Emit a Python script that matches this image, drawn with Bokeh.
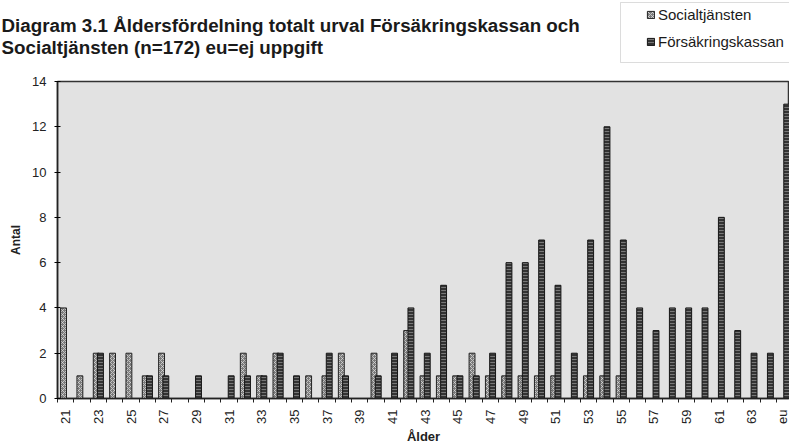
import math
from bokeh.plotting import figure
from bokeh.layouts import column
from bokeh.models import (ColumnDataSource, Range1d, FixedTicker, Label, Legend,
                          LegendItem, BoxAnnotation)
from bokeh.transform import dodge
from bokeh.embed import file_html
from bokeh.resources import INLINE

# ---------------- data ----------------
categories = ["21", "22", "23", "24", "25", "26", "27", "28", "29", "30",
              "31", "32", "33", "34", "35", "36", "37", "38", "39", "40",
              "41", "42", "43", "44", "45", "46", "47", "48", "49", "50",
              "51", "52", "53", "54", "55", "56", "57", "58", "59", "60",
              "61", "62", "63", "64", "eu"]
socialtjansten = [4, 1, 2, 2, 2, 1, 2, 0, 0, 0,
                  0, 2, 1, 2, 0, 1, 1, 2, 0, 2,
                  0, 3, 1, 1, 1, 2, 1, 1, 1, 1,
                  1, 0, 1, 1, 1, 0, 0, 0, 0, 0,
                  0, 0, 0, 0, 0]
forsakringskassan = [0, 0, 2, 0, 0, 1, 1, 0, 1, 0,
                     1, 1, 1, 2, 1, 0, 2, 1, 0, 1,
                     2, 4, 2, 5, 1, 1, 2, 6, 6, 7,
                     5, 2, 7, 12, 7, 4, 3, 4, 4, 4,
                     8, 3, 2, 2, 13]
y_ticks = [0, 2, 4, 6, 8, 10, 12, 14]
x_tick_labels = categories[::2]

title_line1 = "Diagram 3.1 Åldersfördelning totalt urval Försäkringskassan och"
title_line2 = "Socialtjänsten (n=172) eu=ej uppgift"
series_names = ["Socialtjänsten", "Försäkringskassan"]

FONT = "Liberation Sans"
W = 789
HEADER_H = 72
MAIN_H = 446 - HEADER_H

SOC_STYLE = dict(fill_color="#7a7a7a", line_color="#222222", line_width=1,
                 hatch_pattern="x", hatch_color="#d8d8d8", hatch_scale=4, hatch_weight=0.8)
FK_STYLE = dict(fill_color="#333333", line_color="#161616", line_width=1,
                hatch_pattern="-", hatch_color="#8a8a8a", hatch_scale=3, hatch_weight=0.8)

idx = list(range(len(categories)))

# ---------------- header (title + legend) ----------------
header = figure(width=W, height=HEADER_H, x_range=Range1d(0, W), y_range=Range1d(HEADER_H, 0),
                output_backend="svg", toolbar_location=None,
                x_axis_location=None, y_axis_location=None,
                min_border=0, outline_line_color=None,
                background_fill_color="white", border_fill_color="white")
header.frame_align = False
header.grid.visible = False

for txt, base in [(title_line1, 25), (title_line2, 47)]:
    header.add_layout(Label(x=1, y=base, text=txt, text_font=FONT, text_font_size="18.8px",
                            text_font_style="bold", text_color="#1a1a1a",
                            text_baseline="alphabetic", text_align="left"))

header.add_layout(BoxAnnotation(left=620, right=W + 10, top=2, bottom=62,
                                fill_color="white", fill_alpha=1,
                                line_color="#8a8a8a", line_width=1))
# legend-only renderers (hidden; they just supply the legend swatches)
h_soc = header.vbar(x=idx, top=socialtjansten, width=0.36, visible=False, **SOC_STYLE)
h_fk = header.vbar(x=idx, top=forsakringskassan, width=0.36, visible=False, **FK_STYLE)
legend = Legend(items=[LegendItem(label=series_names[0], renderers=[h_soc]),
                       LegendItem(label=series_names[1], renderers=[h_fk])],
                location=(646, HEADER_H - 50), orientation="vertical",
                label_text_font=FONT, label_text_font_size="15px",
                label_text_color="#1a1a1a",
                glyph_width=9, glyph_height=9, label_height=15, spacing=10,
                padding=0, margin=0, label_standoff=3,
                border_line_color=None, background_fill_alpha=0)
header.add_layout(legend)

# ---------------- main chart ----------------
soc_src = ColumnDataSource(dict(
    x=[i for i, v in zip(idx, socialtjansten) if v > 0],
    top=[v for v in socialtjansten if v > 0]))
fk_src = ColumnDataSource(dict(
    x=[i for i, v in zip(idx, forsakringskassan) if v > 0],
    top=[v for v in forsakringskassan if v > 0]))

p = figure(width=W, height=MAIN_H,
           x_range=Range1d(-0.5, len(categories) - 1 + 0.3),
           y_range=Range1d(0, 14),
           output_backend="svg", toolbar_location=None,
           min_border_left=57, min_border_right=0,
           min_border_top=9, min_border_bottom=47,
           background_fill_color="#e2e2e2", border_fill_color="white",
           outline_line_color="#333333", outline_line_width=1.5)
p.frame_align = False
p.xgrid.visible = False
p.ygrid.visible = False

p.vbar(x=dodge("x", -0.13, range=p.x_range), top="top", width=0.36, source=soc_src, **SOC_STYLE)
p.vbar(x=dodge("x", 0.13, range=p.x_range), top="top", width=0.36, source=fk_src, **FK_STYLE)

xa = p.xaxis[0]
xa.ticker = FixedTicker(ticks=idx[::2], minor_ticks=[i - 0.5 for i in range(len(categories) + 1)])
xa.major_label_overrides = {i: lab for i, lab in zip(idx[::2], x_tick_labels)}
xa.major_label_orientation = math.pi / 2
xa.major_tick_in = 0
xa.major_tick_out = 0
xa.minor_tick_in = 0
xa.minor_tick_out = 4
xa.minor_tick_line_color = "#222222"
xa.axis_line_color = "#222222"
xa.axis_line_width = 1.5
xa.major_label_text_font = FONT
xa.major_label_text_font_size = "13px"
xa.major_label_text_color = "#222222"
xa.major_label_standoff = 7
xa.axis_label = "Ålder"
xa.axis_label_text_font = FONT
xa.axis_label_text_font_size = "13px"
xa.axis_label_text_font_style = "bold"
xa.axis_label_text_color = "#222222"
xa.axis_label_standoff = 2

ya = p.yaxis[0]
ya.ticker = FixedTicker(ticks=y_ticks)
ya.major_tick_in = 3
ya.major_tick_out = 3
ya.minor_tick_line_color = None
ya.axis_line_color = "#222222"
ya.axis_line_width = 1.5
ya.major_label_text_font = FONT
ya.major_label_text_font_size = "13px"
ya.major_label_text_color = "#222222"
ya.major_label_standoff = 8
ya.axis_label = "Antal"
ya.axis_label_text_font = FONT
ya.axis_label_text_font_size = "12px"
ya.axis_label_text_font_style = "bold"
ya.axis_label_text_color = "#222222"
ya.axis_label_standoff = 6

layout = column(header, p, spacing=0)
open("out.html", "w").write(file_html(layout, INLINE))
